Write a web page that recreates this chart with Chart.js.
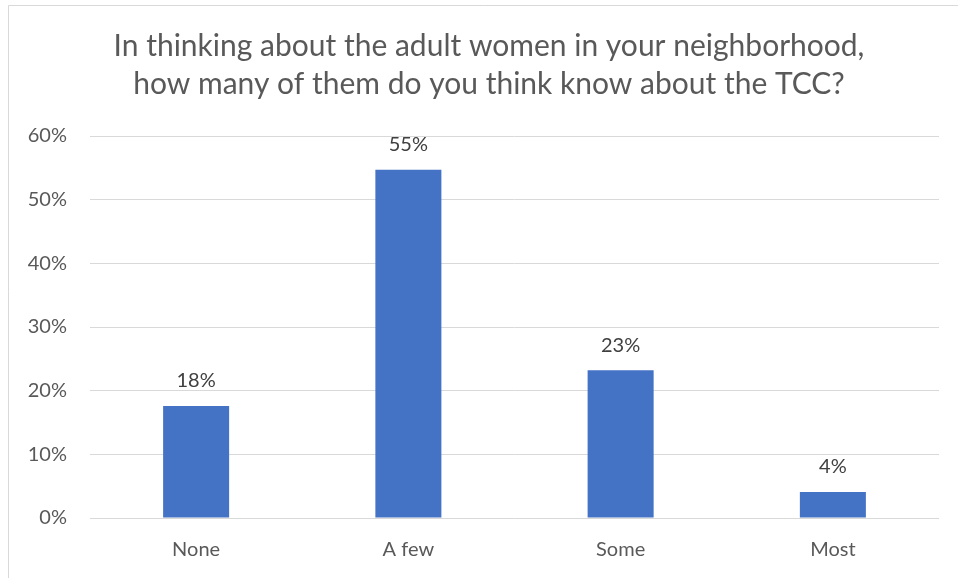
<!DOCTYPE html>
<html>
<head>
<meta charset="utf-8">
<script src="https://cdn.jsdelivr.net/npm/chart.js@4"></script>
<style>
  html, body { margin: 0; padding: 0; background: #fff; }
  #wrap { width: 958px; height: 578px; }
</style>
</head>
<body>
<div id="wrap"><canvas id="chart"></canvas></div>
<script>
// chart data
const categories = ['None', 'A few', 'Some', 'Most'];
const shares = [17.6, 54.7, 23.2, 4.1];
const shareLabels = ['18%', '55%', '23%', '4%'];
const titleLines = [
    'In thinking about the adult women in your neighborhood,',
    'how many of them do you think know about the TCC?'
];

const fontFamily = 'Lato, "Open Sans", sans-serif';

// light grey frame like the office chart area, plus the title
// (the original chart box runs past the right edge, so the title sits right of centre)
const framePlugin = {
    id: 'frame',
    beforeDraw(chart) {
        let ctx = chart.ctx;
        ctx.save();
        ctx.fillStyle = '#ffffff';
        ctx.fillRect(0, 0, chart.width, chart.height);
        ctx.strokeStyle = '#d9d9d9';
        ctx.lineWidth = 1;
        ctx.beginPath();
        ctx.moveTo(8.5, chart.height);
        ctx.lineTo(8.5, 5.5);
        ctx.lineTo(chart.width, 5.5);
        ctx.stroke();

        ctx.font = '30px ' + fontFamily;
        ctx.fillStyle = '#595959';
        ctx.textAlign = 'center';
        ctx.textBaseline = 'alphabetic';
        titleLines.forEach((line, i) => {
            ctx.fillText(line, 489, 56 + i * 38);
        });
        ctx.restore();
    }
};

// value labels above each bar
const barLabels = {
    id: 'barLabels',
    afterDatasetsDraw(chart) {
        let ctx = chart.ctx;
        let meta = chart.getDatasetMeta(0);
        ctx.save();
        ctx.font = '20px ' + fontFamily;
        ctx.fillStyle = '#404040';
        ctx.textAlign = 'center';
        ctx.textBaseline = 'middle';
        meta.data.forEach((bar, i) => {
            ctx.fillText(shareLabels[i], bar.x, bar.y - 25);
        });
        ctx.restore();
    }
};

let ctx = document.getElementById('chart').getContext('2d');
new Chart(ctx, {
    type: 'bar',
    data: {
        labels: categories,
        datasets: [{
            data: shares,
            backgroundColor: '#4472c4',
            borderWidth: 0,
            categoryPercentage: 1,
            barPercentage: 0.311
        }]
    },
    options: {
        responsive: true,
        maintainAspectRatio: false,
        animation: false,
        layout: { padding: { left: 0, right: 19, top: 136, bottom: 0 } },
        plugins: {
            legend: { display: false },
            tooltip: { enabled: false },
            title: { display: false }
        },
        scales: {
            x: {
                grid: { display: false, drawTicks: false },
                border: { display: false },
                ticks: {
                    color: '#595959',
                    font: { family: fontFamily, size: 20 },
                    padding: 20
                },
                afterFit(scale) { scale.height = 60; }
            },
            y: {
                min: 0,
                max: 60,
                grid: { color: '#d9d9d9', lineWidth: 1, drawTicks: false },
                border: { display: false },
                ticks: {
                    stepSize: 10,
                    color: '#595959',
                    font: { family: fontFamily, size: 20 },
                    padding: 23,
                    callback: v => v + '%'
                },
                afterFit(scale) { scale.width = 90; }
            }
        }
    },
    plugins: [framePlugin, barLabels]
});
</script>
</body>
</html>
